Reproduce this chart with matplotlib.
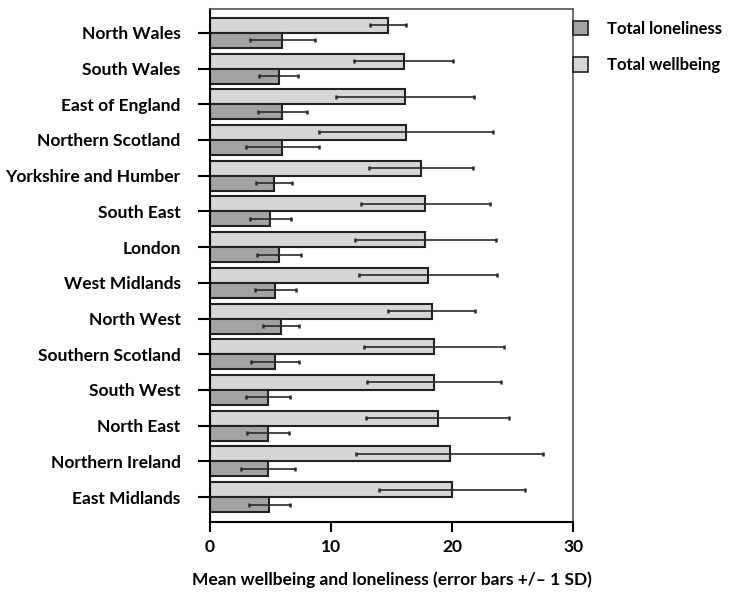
import numpy as np
import matplotlib.pyplot as plt
from matplotlib.patches import Patch

plt.rcParams['font.family'] = ['Lato', 'DejaVu Sans']
plt.rcParams['font.weight'] = 'bold'

regions = ["North Wales", "South Wales", "East of England", "Northern Scotland",
           "Yorkshire and Humber", "South East", "London", "West Midlands",
           "North West", "Southern Scotland", "South West", "North East",
           "Northern Ireland", "East Midlands"]
wellbeing = [14.7, 16.0, 16.1, 16.2, 17.4, 17.8, 17.8, 18.0, 18.3, 18.5, 18.5, 18.8, 19.8, 20.0]
wellbeing_sd = [1.5, 4.1, 5.7, 7.2, 4.3, 5.3, 5.8, 5.7, 3.6, 5.8, 5.5, 5.9, 7.7, 6.0]
loneliness = [6.0, 5.7, 6.0, 6.0, 5.3, 5.0, 5.7, 5.4, 5.9, 5.4, 4.8, 4.8, 4.8, 4.9]
loneliness_sd = [2.7, 1.6, 2.0, 3.0, 1.5, 1.7, 1.8, 1.7, 1.5, 2.0, 1.8, 1.7, 2.2, 1.7]

dark_grey = '#a3a3a3'
light_grey = '#d6d6d6'
fs = 12.5

fig = plt.figure(figsize=(7.36, 5.92), dpi=100)
ax = fig.add_axes([0.285, 0.118, 0.494, 0.867])

y = np.arange(len(regions))
h = 0.42
err_kw = dict(ecolor='#2a2a2a', elinewidth=1.2, capsize=1.5, capthick=1.8)
ax.barh(y - h / 2, wellbeing, height=h, color=light_grey, edgecolor='#222222',
        linewidth=1.5, xerr=wellbeing_sd, error_kw=err_kw)
ax.barh(y + h / 2, loneliness, height=h, color=dark_grey, edgecolor='#222222',
        linewidth=1.5, xerr=loneliness_sd, error_kw=err_kw)

ax.set_xlim(0, 30)
ax.set_ylim(len(regions) - 0.3, -0.67)
ax.set_xticks([0, 10, 20, 30])
ax.set_yticks(y)
ax.set_yticklabels(regions, fontsize=fs, fontweight='bold')
ax.tick_params(axis='y', length=9, width=1.5, pad=12)
ax.tick_params(axis='x', length=7, width=1.5, labelsize=fs, pad=5)
for lab in ax.get_xticklabels():
    lab.set_fontweight('bold')
for side in ['left', 'bottom']:
    ax.spines[side].set_linewidth(1.5)
for side in ['top', 'right']:
    ax.spines[side].set_linewidth(1.2)
    ax.spines[side].set_color('#555555')

ax.set_xlabel('Mean wellbeing and loneliness (error bars +/\u2013 1 SD)',
              fontsize=fs, fontweight='bold', labelpad=12)

handles = [Patch(facecolor=dark_grey, edgecolor='#222222', linewidth=1.2, label='Total loneliness'),
           Patch(facecolor=light_grey, edgecolor='#222222', linewidth=1.2, label='Total wellbeing')]
fig.legend(handles=handles, loc='upper left', bbox_to_anchor=(0.778, 0.965),
           frameon=False, fontsize=12, handlelength=0.9, handleheight=0.96,
           labelspacing=1.22, handletextpad=1.15, borderpad=0, borderaxespad=0)

fig.savefig('out.png', dpi=100)
